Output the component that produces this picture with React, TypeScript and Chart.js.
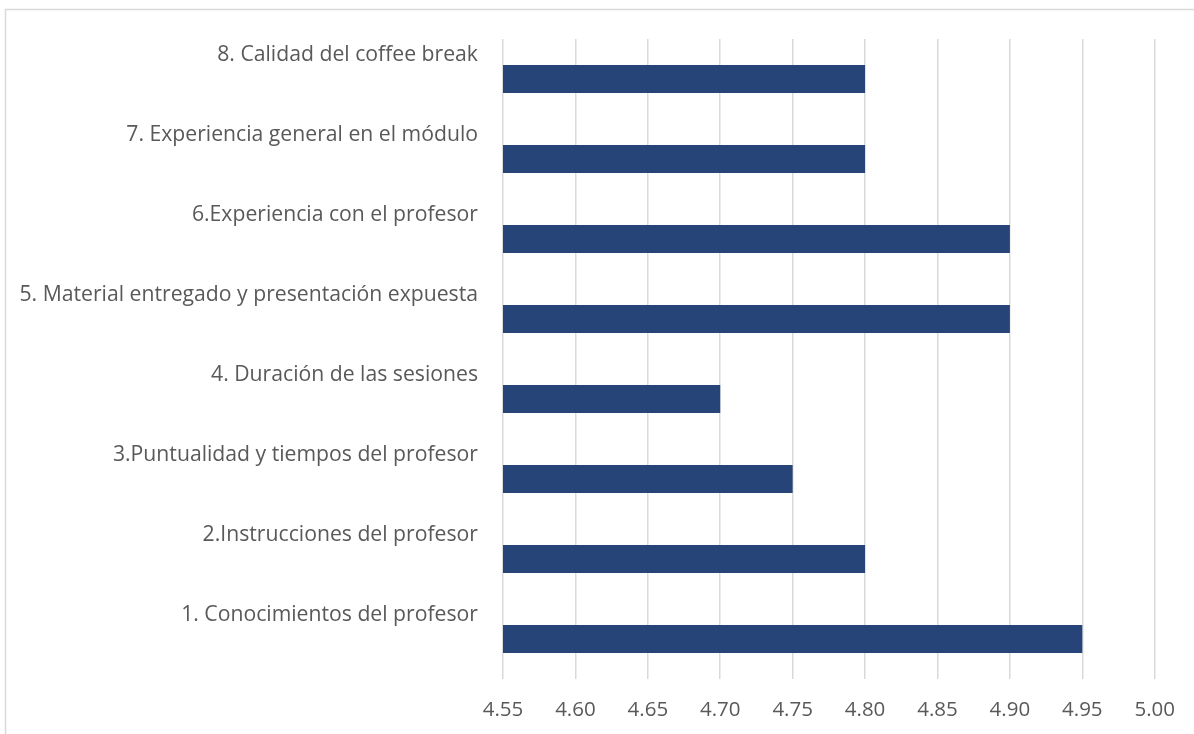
import React, { useEffect, useRef } from "react";
import { Chart, registerables } from "chart.js";

Chart.register(...registerables);

const categories = [
  "8. Calidad del coffee break",
  "7. Experiencia general en el módulo",
  "6.Experiencia con el profesor",
  "5. Material entregado y presentación expuesta",
  "4. Duración de las sesiones",
  "3.Puntualidad y tiempos del profesor",
  "2.Instrucciones del profesor",
  "1. Conocimientos del profesor",
];
const values = [4.8, 4.8, 4.9, 4.9, 4.7, 4.75, 4.8, 4.95];
const xMin = 4.55;
const xMax = 5.0;
const xStep = 0.05;

const FONT = "'Open Sans', 'Liberation Sans', sans-serif";

export default function App() {
  const ref = useRef<HTMLCanvasElement>(null);
  useEffect(() => {
    if (!ref.current) return;
    const borderPlugin = {
      id: "outerBorder",
      beforeDraw(chart: any) {
        const ctx = chart.ctx;
        ctx.save();
        ctx.fillStyle = "#ffffff";
        ctx.fillRect(0, 0, chart.width, chart.height);
        ctx.strokeStyle = "#d9d9d9";
        ctx.lineWidth = 1.5;
        ctx.strokeRect(5.5, 9.5, chart.width + 50, chart.height + 50);
        ctx.restore();
      },
    };
    const chart = new Chart(ref.current, {
      type: "bar",
      data: {
        labels: categories,
        datasets: [
          {
            data: values,
            backgroundColor: "#264478",
            borderWidth: 0,
            categoryPercentage: 0.35,
            barPercentage: 1,
          },
        ],
      },
      options: {
        indexAxis: "y",
        responsive: false,
        animation: false,
        layout: { padding: { top: 39, right: 39, left: 0, bottom: 0 } },
        plugins: { legend: { display: false }, tooltip: { enabled: false } },
        scales: {
          x: {
            min: xMin,
            max: xMax,
            afterFit: (s: any) => {
              s.height = 55;
            },
            ticks: {
              stepSize: xStep,
              color: "#595959",
              padding: 19,
              font: { family: FONT, size: 20.5 },
              callback: (v: any) => Number(v).toFixed(2),
            },
            grid: {
              color: "#d9d9d9",
              lineWidth: 1.5,
              drawTicks: false,
            },
            border: { display: false },
          },
          y: {
            afterFit: (s: any) => {
              s.width = 503;
            },
            ticks: {
              color: "#595959",
              padding: 25,
              labelOffset: -24,
              font: { family: FONT, size: 21.2 },
            },
            grid: { display: false, drawTicks: false },
            border: { display: false },
          },
        },
      },
      plugins: [borderPlugin],
    });
    return () => chart.destroy();
  }, []);
  return (
    <canvas
      ref={ref}
      width={1194}
      height={734}
      style={{ position: "absolute", left: 0, top: 0, display: "block" }}
    />
  );
}
